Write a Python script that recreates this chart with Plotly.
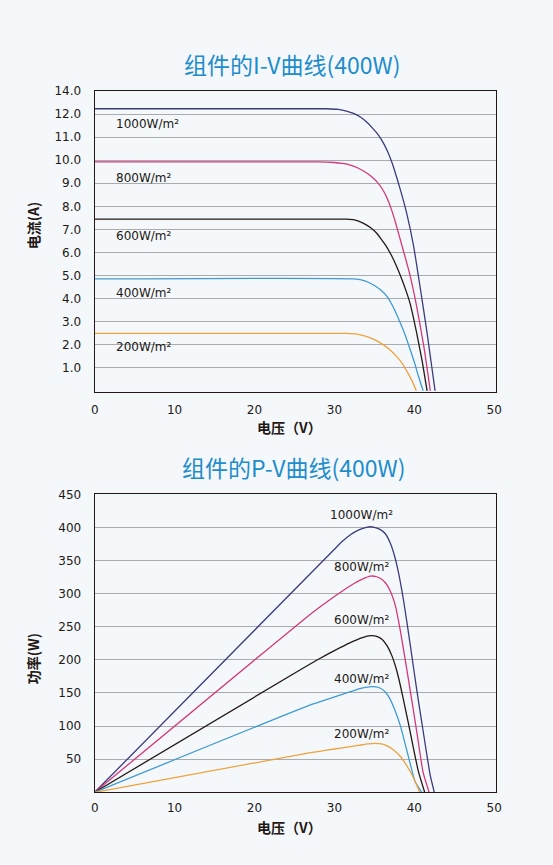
import plotly.graph_objects as go

# ---------------- data ----------------
irradiance_labels = ["1000W/m²", "800W/m²", "600W/m²", "400W/m²", "200W/m²"]
line_colors = ["#3d3b7d", "#d4387a", "#231815", "#3f9ad3", "#eea23b"]

# I-V curves (voltage V, current A)
iv_v_1000 = [0, 29.0, 30.5, 31.5, 32.4, 33.3, 34.1, 34.8, 35.3, 35.9, 36.6, 37.2, 37.8, 38.5, 39.1, 39.9, 40.5, 41.1, 41.6, 42.1, 42.6]
iv_i_1000 = [12.23, 12.23, 12.2, 12.13, 12.03, 11.86, 11.63, 11.38, 11.18, 10.88, 10.42, 9.9, 9.25, 8.42, 7.62, 6.3, 5.0, 3.65, 2.5, 1.25, 0]
iv_v_800 = [0, 28.0, 30.0, 31.0, 32.0, 33.0, 34.1, 34.7, 35.3, 36.0, 36.6, 37.1, 37.6, 38.45, 39.4, 40.3, 41.2, 42.0]
iv_i_800 = [9.93, 9.93, 9.9, 9.86, 9.79, 9.65, 9.43, 9.27, 9.07, 8.75, 8.35, 7.9, 7.35, 6.3, 5.1, 3.65, 1.9, 0]
iv_v_600 = [0, 31.5, 32.5, 33.65, 34.5, 35.3, 35.9, 36.4, 37.1, 37.8, 38.4, 39.0, 39.5, 40.3, 41.0, 41.6]
iv_i_600 = [7.44, 7.44, 7.41, 7.26, 7.08, 6.83, 6.56, 6.32, 5.9, 5.38, 4.87, 4.3, 3.75, 2.5, 1.25, 0]
iv_v_400 = [0, 32.5, 33.8, 34.9, 35.8, 36.6, 37.4, 38.2, 38.9, 39.5, 40.0, 40.5, 41.1]
iv_i_400 = [4.85, 4.85, 4.77, 4.59, 4.37, 4.08, 3.6, 2.98, 2.38, 1.77, 1.25, 0.65, 0]
iv_v_200 = [0, 31.5, 32.8, 34.07, 35.2, 36.15, 37.0, 37.8, 38.5, 39.1, 39.7, 40.25]
iv_i_200 = [2.49, 2.49, 2.46, 2.35, 2.19, 1.99, 1.76, 1.48, 1.18, 0.83, 0.44, 0]

# P-V curves (voltage V, power W)
pv_v_1000 = [0, 30.0, 31.0, 32.0, 33.0, 34.0, 34.5, 35.0, 35.7, 36.4, 37.0, 37.5, 38.0, 38.65, 39.5, 40.3, 41.2, 42.0, 42.5]
pv_p_1000 = [0, 367, 379, 389, 396, 400, 401, 400, 397, 390, 376, 358, 333, 290, 222, 155, 85, 25, 0]
pv_v_800 = [0, 27.0, 29.0, 31.0, 32.4, 33.5, 34.5, 35.3, 36.0, 36.6, 37.1, 37.6, 38.24, 39.3, 40.3, 41.1, 41.85]
pv_p_800 = [0, 269, 287, 304, 315, 322, 326.5, 325.5, 321, 313, 301, 283, 245, 168, 92, 30, 0]
pv_v_600 = [0, 26.0, 28.0, 30.0, 32.0, 33.5, 34.5, 35.3, 35.95, 36.6, 37.2, 37.7, 38.24, 38.9, 39.5, 40.5, 41.3]
pv_p_600 = [0, 187, 201, 214, 226, 233.5, 236.5, 235.5, 231, 221, 206, 188, 162, 125, 90, 32, 0]
pv_v_400 = [0, 27.0, 29.0, 30.5, 32.0, 33.3, 34.7, 35.7, 36.4, 37.0, 37.6, 38.24, 39.3, 40.1, 40.95]
pv_p_400 = [0, 132, 140, 146, 152, 157, 159.5, 157.5, 151, 140, 123, 101, 52, 16, 0]
pv_v_200 = [0, 27.0, 29.0, 31.0, 33.0, 34.2, 35.1, 35.9, 36.6, 37.4, 38.24, 39.5, 40.3, 40.66]
pv_p_200 = [0, 59.8, 63.6, 67.2, 70.8, 73, 74, 73.2, 70, 64, 54.5, 31, 11, 0]

x_ticks = [0, 10, 20, 30, 40, 50]
iv_y_tickvals = [1, 2, 3, 4, 5, 6, 7, 8, 9, 10, 11, 12, 13]
iv_y_ticktext = ["1.0", "2.0", "3.0", "4.0", "5.0", "6.0", "7.0", "8.0", "9.0",
                 "10.0", "11.0", "12.0", "14.0"]
pv_y_tickvals = [50, 100, 150, 200, 250, 300, 350, 400, 450]

# label positions (data coords)
iv_label_x = 2.45
iv_label_y = [11.55, 9.22, 6.73, 4.25, 1.92]
pv_label_x = 33.4
pv_label_y = [418.7, 339.8, 260.2, 170.6, 87.6]

title_iv = "组件的I-V曲线(400W)"
title_pv = "组件的P-V曲线(400W)"
x_title = "电压（V）"
y_title_iv = "电流(A)"
y_title_pv = "功率(W)"

# ---------------- figure ----------------
W, H = 553, 865
BG = "#f4f8fb"
AXC = "#231815"
GRID = "#a9abae"
TICKFONT = dict(family="DejaVu Sans", size=12, color=AXC)
CJK = "Noto Sans CJK SC"

iv_sets = [(iv_v_1000, iv_i_1000), (iv_v_800, iv_i_800), (iv_v_600, iv_i_600),
           (iv_v_400, iv_i_400), (iv_v_200, iv_i_200)]
pv_sets = [(pv_v_1000, pv_p_1000), (pv_v_800, pv_p_800), (pv_v_600, pv_p_600),
           (pv_v_400, pv_p_400), (pv_v_200, pv_p_200)]

fig = go.Figure()
for (v, i), c in zip(iv_sets, line_colors):
    fig.add_trace(go.Scatter(x=v, y=i, mode="lines", xaxis="x", yaxis="y",
                             line=dict(color=c, width=1.3, shape="spline", smoothing=0.5),
                             showlegend=False, hoverinfo="skip"))
for (v, p), c in zip(pv_sets, line_colors):
    fig.add_trace(go.Scatter(x=v, y=p, mode="lines", xaxis="x2", yaxis="y2",
                             line=dict(color=c, width=1.3, shape="spline", smoothing=0.5),
                             showlegend=False, hoverinfo="skip"))

def px_x(px):
    return px / W

def px_y(py):
    return 1 - py / H

xdom = [px_x(94.7), px_x(495.5)]
common_axis = dict(showline=True, linecolor=AXC, linewidth=1.2, mirror=True,
                   zeroline=False, tickfont=TICKFONT, automargin=False,
                   ticks="outside", tickcolor="rgba(0,0,0,0)", fixedrange=True)

fig.update_layout(
    width=W, height=H,
    margin=dict(l=0, r=0, t=0, b=0),
    paper_bgcolor=BG, plot_bgcolor=BG,
    xaxis=dict(domain=xdom, range=[0, 50.16], tickvals=x_ticks, showgrid=False,
               anchor="y", ticklen=6, **common_axis),
    yaxis=dict(domain=[px_y(392.3), px_y(91)], range=[-0.065, 13],
               tickvals=iv_y_tickvals, ticktext=iv_y_ticktext,
               showgrid=True, gridcolor=GRID, gridwidth=1, anchor="x",
               ticklen=10, **common_axis),
    xaxis2=dict(domain=xdom, range=[0, 50.16], tickvals=x_ticks, showgrid=False,
                anchor="y2", ticklen=4, **common_axis),
    yaxis2=dict(domain=[px_y(792.3), px_y(494.3)], range=[0, 450],
                tickvals=pv_y_tickvals, showgrid=True, gridcolor=GRID, gridwidth=1,
                anchor="x2", ticklen=10, **common_axis),
)

ann = []
for lbl, y in zip(irradiance_labels, iv_label_y):
    ann.append(dict(x=iv_label_x, y=y, xref="x", yref="y", text=lbl, showarrow=False,
                    xanchor="left", yanchor="middle", font=TICKFONT))
for lbl, y in zip(irradiance_labels, pv_label_y):
    ann.append(dict(x=pv_label_x, y=y, xref="x2", yref="y2", text=lbl, showarrow=False,
                    xanchor="center", yanchor="middle", font=TICKFONT))

title_font = dict(family=CJK, size=23, color="#1f8ccc")
ann.append(dict(x=px_x(292.5), y=px_y(64.5), xref="paper", yref="paper", text=title_iv,
                showarrow=False, xanchor="center", yanchor="middle", font=title_font))
ann.append(dict(x=px_x(293), y=px_y(467), xref="paper", yref="paper", text=title_pv,
                showarrow=False, xanchor="center", yanchor="middle", font=title_font))

axis_title_font = dict(family=CJK, size=14, color=AXC, weight="bold")
for cy in (426.7, 826.7):
    ann.append(dict(x=px_x(289.3), y=px_y(cy), xref="paper", yref="paper", text=x_title,
                    showarrow=False, xanchor="center", yanchor="middle", font=axis_title_font))
ann.append(dict(x=px_x(33.3), y=px_y(225), xref="paper", yref="paper", text=y_title_iv,
                showarrow=False, textangle=-90, xanchor="center", yanchor="middle",
                font=axis_title_font))
ann.append(dict(x=px_x(33.3), y=px_y(659), xref="paper", yref="paper", text=y_title_pv,
                showarrow=False, textangle=-90, xanchor="center", yanchor="middle",
                font=axis_title_font))
fig.update_layout(annotations=ann)

fig.write_html("out.html")
